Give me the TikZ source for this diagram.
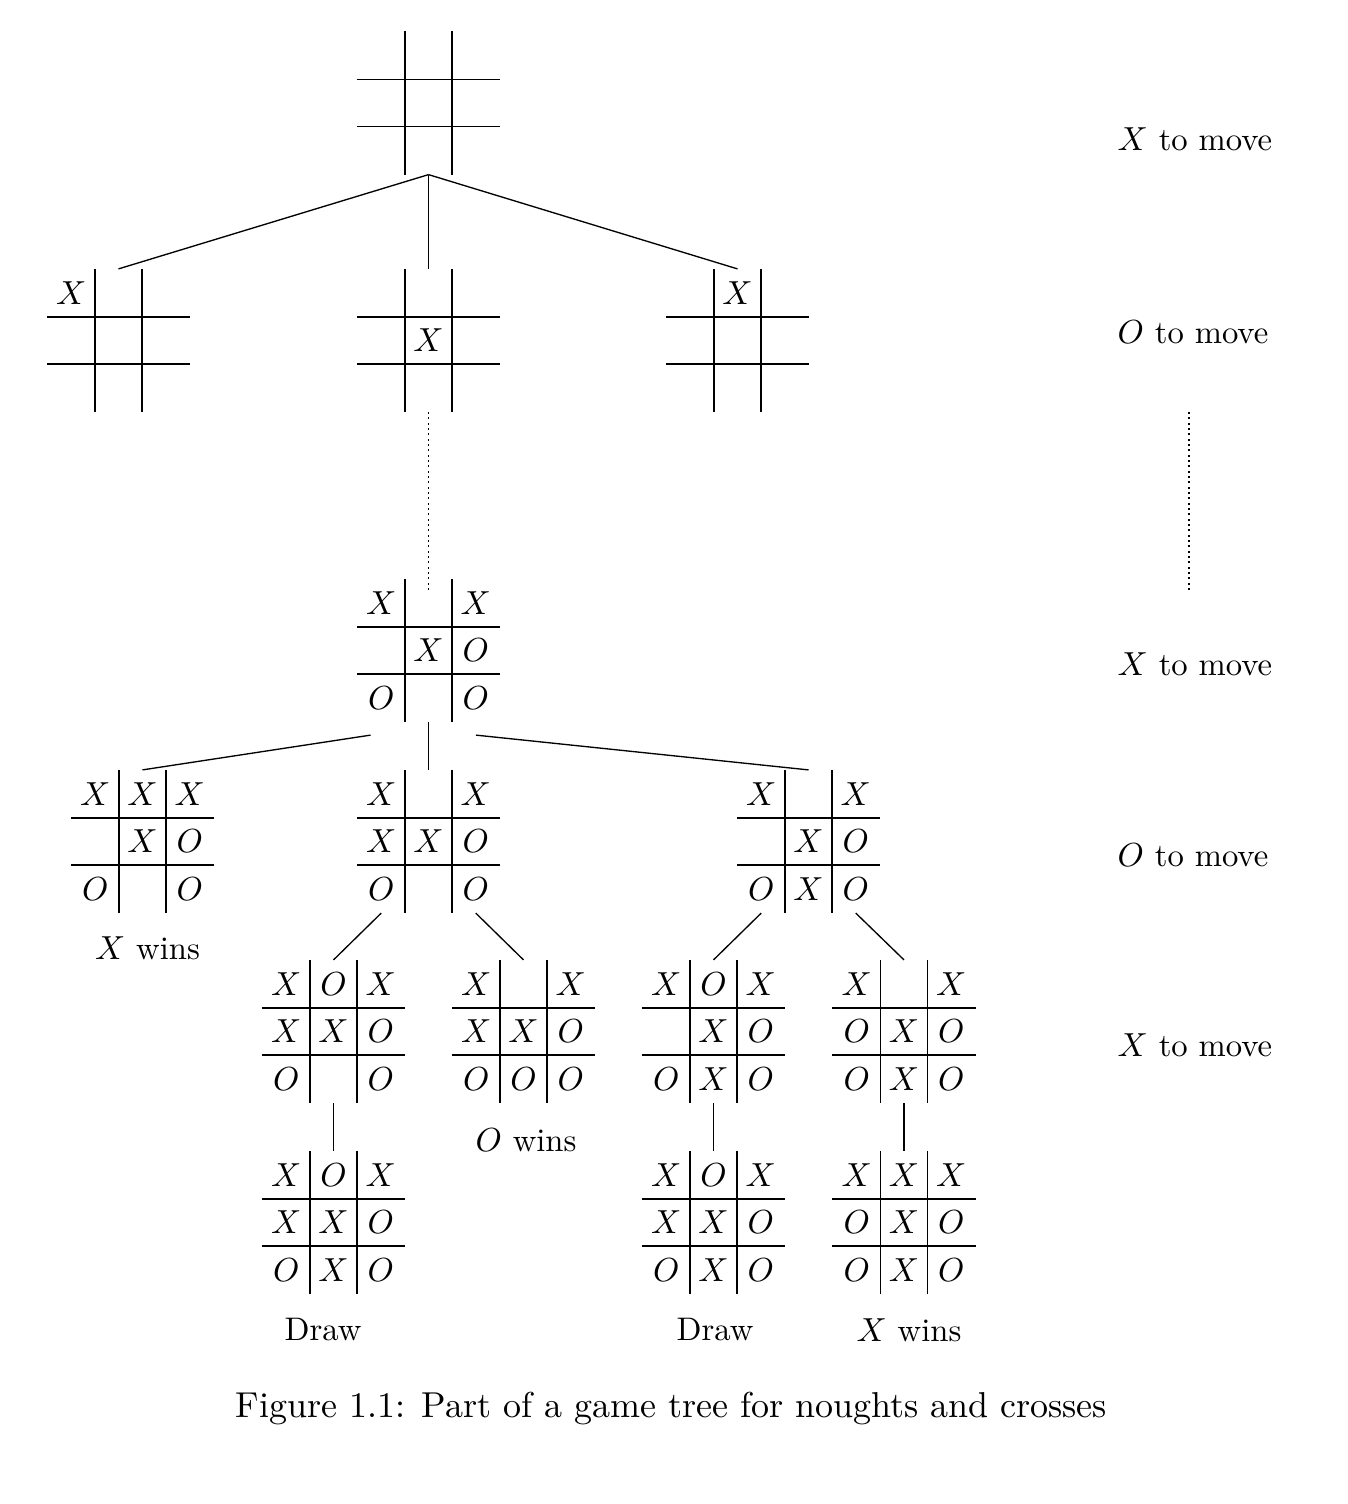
\documentclass[tikz,border=0pt]{standalone}
% one board: name, x, y, the nine cells row by row
\newcommand{\tttboard}[4]{%
  \node[board] (#1) at (#2,#3) {};
  \draw ([shift={(-23.65,0)}]#1.north) -- ([shift={(-23.65,0)}]#1.south);
  \draw ([shift={(23.65,0)}]#1.north) -- ([shift={(23.65,0)}]#1.south);
  \draw ([shift={(0,-23.65)}]#1.west) -- ([shift={(0,-23.65)}]#1.east);
  \draw ([shift={(0,23.65)}]#1.west) -- ([shift={(0,23.65)}]#1.east);
  \foreach \s [count=\k from 0] in {#4} {%
    \pgfmathtruncatemacro{\brow}{\k/3}%
    \pgfmathtruncatemacro{\bcol}{mod(\k,3)}%
    \node[piece] at ([shift={(\bcol*47.3-47.3,\brow*47.3-47.3)}]#1.center) {$\s$};
  }%
}
\begin{document}
\begin{tikzpicture}[>=latex,line join=bevel,x=0.3pt,y=-0.3pt,
    board/.style={rectangle,inner sep=0pt,minimum width=42.57pt,minimum height=42.57pt},
    piece/.style={inner sep=0pt,font=\fontsize{10}{12}\selectfont},
    turn/.style={anchor=west,inner sep=0pt,font=\fontsize{9.8}{11}\selectfont},
    outcome/.style={inner sep=0pt,font=\fontsize{9.8}{11}\selectfont},
    figcap/.style={anchor=base,inner sep=0pt,font=\fontsize{10.8}{13}\selectfont},
    dots/.style={dash pattern=on 0.6pt off 1pt}]
  \pgfsetlinewidth{0.4pt}
  \useasboundingbox (0,0) rectangle (1348,1504);
  %%
  % Node: root
  \tttboard{root}{428.5}{103}{{}}
  % Node: b1, b2, b3
  \tttboard{b1}{118.5}{340.5}{X}
  \tttboard{b2}{428.5}{340.5}{{},{},{},{},X}
  \tttboard{b3}{737.5}{340.5}{{},X}
  % Node: c
  \tttboard{c}{428.5}{650.5}{X,{},X,{},X,O,O,{},O}
  % Node: d1, d2, d3
  \tttboard{d1}{142.5}{841.5}{X,X,X,{},X,O,O,{},O}
  \tttboard{d2}{428.5}{841.5}{X,{},X,X,X,O,O,{},O}
  \tttboard{d3}{808.5}{841.5}{X,{},X,{},X,O,O,X,O}
  % Node: e1, e2, e3, e4
  \tttboard{e1}{333.5}{1031.5}{X,O,X,X,X,O,O,{},O}
  \tttboard{e2}{523.5}{1031.5}{X,{},X,X,X,O,O,O,O}
  \tttboard{e3}{713.5}{1031.5}{X,O,X,{},X,O,O,X,O}
  \tttboard{e4}{904}{1031.5}{X,{},X,O,X,O,O,X,O}
  % Node: f1, f3, f4
  \tttboard{f1}{333.5}{1222.5}{X,O,X,X,X,O,O,X,O}
  \tttboard{f3}{713.5}{1222.5}{X,O,X,X,X,O,O,X,O}
  \tttboard{f4}{904}{1222.5}{X,X,X,O,X,O,O,X,O}
  % Edge: root -> b1, b2, b3
  \draw (root.south) -- (b1.north);
  \draw (root.south) -- (b2.north);
  \draw (root.south) -- (b3.north);
  % Edge: b2 -> c
  \draw [dots] (b2.south) -- ([shift={(0,11)}]c.north);
  % Edge: c -> d1, d2, d3
  \draw ([shift={(-58,13)}]c.south) -- (d1.north);
  \draw (c.south) -- (d2.north);
  \draw ([shift={(47.5,13)}]c.south) -- (d3.north);
  % Edge: d2 -> e1, e2
  \draw ([shift={(-47.3,0)}]d2.south) -- (e1.north);
  \draw ([shift={(47.3,0)}]d2.south) -- (e2.north);
  % Edge: d3 -> e3, e4
  \draw ([shift={(-47.3,0)}]d3.south) -- (e3.north);
  \draw ([shift={(47.3,0)}]d3.south) -- (e4.north);
  % Edge: e1 -> f1, e3 -> f3, e4 -> f4
  \draw (e1.south) -- (f1.north);
  \draw (e3.south) -- (f3.north);
  \draw (e4.south) -- (f4.north);
  % Node: whose turn
  \node[turn] (turn1) at (1117,139.5) {$X$ to move};
  \node[turn] (turn2) at (1117,332) {$O$ to move};
  \coordinate (gaptop) at (1189,412);
  \coordinate (gapbot) at (1189,590);
  \draw [dots] (gaptop) -- (gapbot);
  \node[turn] (turn3) at (1117,664) {$X$ to move};
  \node[turn] (turn4) at (1117,855) {$O$ to move};
  \node[turn] (turn5) at (1117,1045) {$X$ to move};
  % Node: results
  \node[outcome] (res1) at (147.5,948) {$X$ wins};
  \node[outcome] (res2) at (526,1140) {$O$ wins};
  \node[outcome] (res3) at (323,1330) {Draw};
  \node[outcome] (res4) at (715,1330) {Draw};
  \node[outcome] (res5) at (909,1330) {$X$ wins};
  % Node: caption
  \node[figcap] (cap) at (671.5,1417) {Figure 1.1: Part of a game tree for noughts and crosses};
  %
\end{tikzpicture}
\end{document}
